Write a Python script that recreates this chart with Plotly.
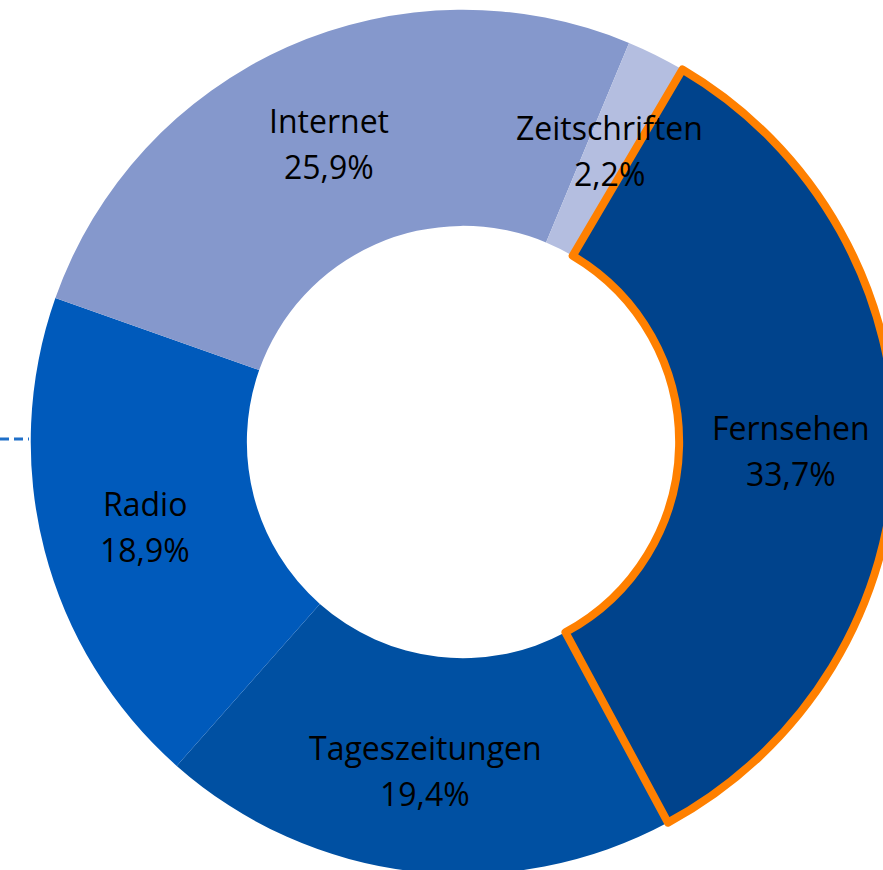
import math

import plotly.graph_objects as go

# Slice order is clockwise starting at Tageszeitungen so that Fernsehen is drawn last
# (its orange outline then sits on top of the neighbouring slices).
labels = ["Tageszeitungen", "Radio", "Internet", "Zeitschriften", "Fernsehen"]
values = [19.4, 18.9, 25.9, 2.2, 33.7]
value_text = ["19,4%", "18,9%", "25,9%", "2,2%", "33,7%"]
colors = ["#0050A2", "#005ABB", "#8598CC", "#B4BEE0", "#00438C"]
highlight = "Fernsehen"

FIG_W, FIG_H = 926, 884
DOM_Y = (0.011, 0.989)
ROTATION = 151.7  # start angle of the first slice, degrees clockwise from 12 o'clock
HOLE = 0.5
LABEL_R = 0.76  # label radius as fraction of outer radius
FONT = dict(family="Open Sans", size=32, color="black")

line_w = [8 if lab == highlight else 0 for lab in labels]
line_c = ["#FF8000" if lab == highlight else "rgba(0,0,0,0)" for lab in labels]

pie = go.Pie(
    labels=labels,
    values=values,
    sort=False,
    direction="clockwise",
    rotation=ROTATION,
    hole=HOLE,
    textinfo="none",
    marker=dict(colors=colors, line=dict(color=line_c, width=line_w)),
    domain=dict(x=[0, 1], y=list(DOM_Y)),
    showlegend=False,
    hoverinfo="label+percent",
)

fig = go.Figure(pie)

# Label annotations at each slice's mid-angle (derived from the values).
cx = 0.5
cy = (DOM_Y[0] + DOM_Y[1]) / 2
radius_px = min(FIG_W, FIG_H * (DOM_Y[1] - DOM_Y[0])) / 2
total = sum(values)
start = ROTATION
for lab, val, txt in zip(labels, values, value_text):
    span = val / total * 360
    mid = math.radians(start + span / 2)
    start += span
    x = cx + LABEL_R * radius_px * math.sin(mid) / FIG_W
    y = cy + LABEL_R * radius_px * math.cos(mid) / FIG_H
    for text, shift in ((lab, 21), (txt, -25)):
        fig.add_annotation(
            x=x, y=y, xref="paper", yref="paper",
            text=text, showarrow=False, font=FONT,
            xanchor="center", yanchor="middle", yshift=shift,
        )

# short dashed leader on the left edge
fig.add_shape(
    type="line", xref="paper", yref="paper",
    x0=0, x1=29 / FIG_W, y0=1 - 439 / FIG_H, y1=1 - 439 / FIG_H,
    line=dict(color="#1F6FC8", width=3, dash="9px,5px"),
)

fig.update_layout(
    width=FIG_W,
    height=FIG_H,
    margin=dict(l=0, r=0, t=0, b=0),
    paper_bgcolor="white",
    plot_bgcolor="white",
)

fig.write_html(
    "out.html",
    config={"displayModeBar": False},
    post_script="document.body.style.margin='0';document.body.style.overflow='hidden';",
)
